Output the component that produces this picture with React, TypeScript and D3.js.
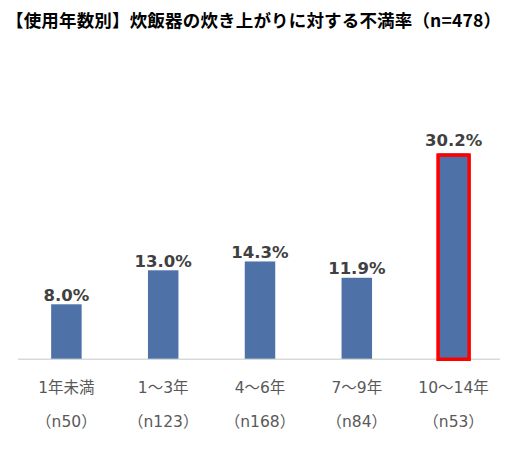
import React from "react";
import * as d3 from "d3";

const title = "【使用年数別】炊飯器の炊き上がりに対する不満率（n=478）";
const categories = ["1年未満", "1～3年", "4～6年", "7～9年", "10～14年"];
const sampleSizes = ["（n50）", "（n123）", "（n168）", "（n84）", "（n53）"];
const rates = [8.0, 13.0, 14.3, 11.9, 30.2];
const highlighted = ["10～14年"];

const WIDTH = 519;
const HEIGHT = 450;
const baseline = 358.7;

export default function App() {
  const x = d3.scaleBand<string>().domain(categories).range([18, 502]).padding(0);
  const y = d3.scaleLinear().domain([0, 35]).range([baseline, 120.7]);
  const barW = x.bandwidth() * 0.315;

  return (
    <svg
      width={WIDTH}
      height={HEIGHT}
      style={{ position: "absolute", left: 0, top: 0, background: "#fff" }}
    >
      <text
        x={6}
        y={27}
        fontFamily="'Noto Sans CJK JP', sans-serif"
        fontWeight="bold"
        fontSize={17.5}
        fill="#000"
        textLength={495}
        lengthAdjust="spacing"
      >
        {title}
      </text>

      <line x1={18} x2={500} y1={baseline + 0.5} y2={baseline + 0.5} stroke="#d9d9d9" strokeWidth={1.5} />

      {categories.map((c, i) => {
        const cx = (x(c) ?? 0) + x.bandwidth() / 2;
        const top = y(rates[i]);
        const isHi = highlighted.includes(c);
        return (
          <g key={c}>
            <rect x={cx - barW / 2} y={top} width={barW} height={baseline - top} fill="#4e71a8" />
            {isHi && (
              <rect
                x={cx - barW / 2 - 0.3}
                y={top + 1.75}
                width={barW + 0.6}
                height={baseline - top - 1.2}
                fill="none"
                stroke="#ff0000"
                strokeWidth={3.5}
              />
            )}
            <text
              x={cx}
              y={top - (isHi ? 7 : 3.5)}
              textAnchor="middle"
              fontFamily="'DejaVu Sans', sans-serif"
              fontWeight="bold"
              fontSize={16.5}
              fill="#404040"
            >
              {rates[i].toFixed(1)}%
            </text>
            <text
              x={cx}
              y={393}
              textAnchor="middle"
              fontFamily="'DejaVu Sans', 'Noto Sans CJK JP', sans-serif"
              fontSize={15.5}
              fill="#595959"
            >
              {c}
            </text>
            <text
              x={cx}
              y={427}
              textAnchor="middle"
              fontFamily="'DejaVu Sans', 'Noto Sans CJK JP', sans-serif"
              fontSize={15.5}
              fill="#595959"
            >
              {sampleSizes[i]}
            </text>
          </g>
        );
      })}
    </svg>
  );
}
